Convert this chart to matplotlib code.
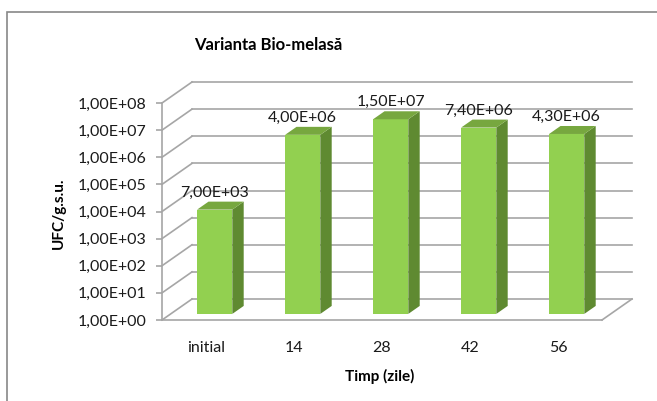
import numpy as np
import matplotlib.pyplot as plt
from matplotlib.patches import Polygon, Rectangle
from matplotlib.ticker import NullLocator

plt.rcParams['font.family'] = ['Lato', 'DejaVu Sans']

# --- Data ---
categories = ['initial', '14', '28', '42', '56']
ufc = np.array([7.0e3, 4.0e6, 1.5e7, 7.4e6, 4.3e6])
decades = np.arange(0, 9)
tick_values = 10.0 ** decades
tick_labels = ['1,00E+%02d' % k for k in decades]

# --- Layout (pixels) ---
W, H = 657, 401
fig = plt.figure(figsize=(W / 100, H / 100), dpi=100)
ax = fig.add_axes([162 / W, (H - 320) / H, 440 / W, 217 / H])
ax.set_yscale('log')
ax.set_ylim(1, 1e8)
ax.set_xlim(-0.5, 4.5)

# oblique depth: whole floor depth in x data units and in decades
DX = 30 / 88
DDEC = 21 / 27.125
F = 10 ** DDEC

grid_col = '#a6a6a6'
txt_col = '#1a1a1a'
lw = 1.2

for s in ['top', 'right']:
    ax.spines[s].set_visible(False)
for s in ['left', 'bottom']:
    ax.spines[s].set_color(grid_col)
    ax.spines[s].set_linewidth(lw)

ax.set_yticks(tick_values)
ax.set_yticklabels(tick_labels)
ax.yaxis.set_minor_locator(NullLocator())
ax.tick_params(axis='y', direction='out', length=4, width=lw, color=grid_col,
               labelsize=11.5, labelcolor=txt_col, pad=7)
ax.set_xticks(range(len(categories)))
ax.set_xticklabels(categories)
ax.tick_params(axis='x', length=0, labelsize=11.5, labelcolor=txt_col, pad=15)

# back wall gridlines and side wall diagonals
for v in tick_values:
    ax.plot([-0.5 + DX, 4.5 + DX], [v * F, v * F], color=grid_col, lw=lw,
            clip_on=False, zorder=1)
    ax.plot([-0.5, -0.5 + DX], [v, v * F], color=grid_col, lw=lw,
            clip_on=False, zorder=1)
# floor right edge
ax.plot([4.5, 4.5 + DX], [1, F], color=grid_col, lw=lw, clip_on=False, zorder=1)

# --- 3D bars ---
front_col = '#92d050'
side_col = '#5f8a31'
top_col = '#77a73f'
a0, a1 = 0.29, 0.67
d = a1 - a0
bw = 0.40
base = 10 ** (a0 * DDEC)
fd = 10 ** (d * DDEC)
xs = np.arange(len(categories)) + a0 * DX
tops = ufc * base

ax.bar(xs, tops - base, bottom=base, width=bw, color=front_col, zorder=3)

for x, t, v in zip(xs, tops, ufc):
    xl, xr = x - bw / 2, x + bw / 2
    side = Polygon([(xr, base), (xr, t), (xr + d * DX, t * fd),
                    (xr + d * DX, base * fd)], closed=True,
                   facecolor=side_col, edgecolor='none', zorder=3)
    top = Polygon([(xl, t), (xr, t), (xr + d * DX, t * fd),
                   (xl + d * DX, t * fd)], closed=True,
                  facecolor=top_col, edgecolor='none', zorder=3)
    ax.add_patch(side)
    ax.add_patch(top)
    label = ('%.2E' % v).replace('.', ',')
    ax.annotate(label, (x, t * fd), xytext=(0, 1.5), textcoords='offset points',
                ha='center', va='bottom', fontsize=11.5, color=txt_col,
                annotation_clip=False)

# --- Titles ---
fig.text(268 / W, 1 - 45 / H, 'Varianta Bio-melasă', ha='center', va='center',
         fontsize=12, fontweight='bold')
fig.text(59 / W, 1 - 213 / H, 'UFC/g.s.u.', ha='center', va='center',
         rotation=90, fontsize=11, fontweight='bold')
fig.text(380 / W, 1 - 376 / H, 'Timp (zile)', ha='center', va='center',
         fontsize=11, fontweight='bold')

# chart area border
fig.add_artist(Rectangle((7 / W, -0.1), 1.2, 1 - 12 / H + 0.1,
                         transform=fig.transFigure, fill=False,
                         edgecolor='#888888', lw=1.2))

fig.savefig('out.png', dpi=100)
